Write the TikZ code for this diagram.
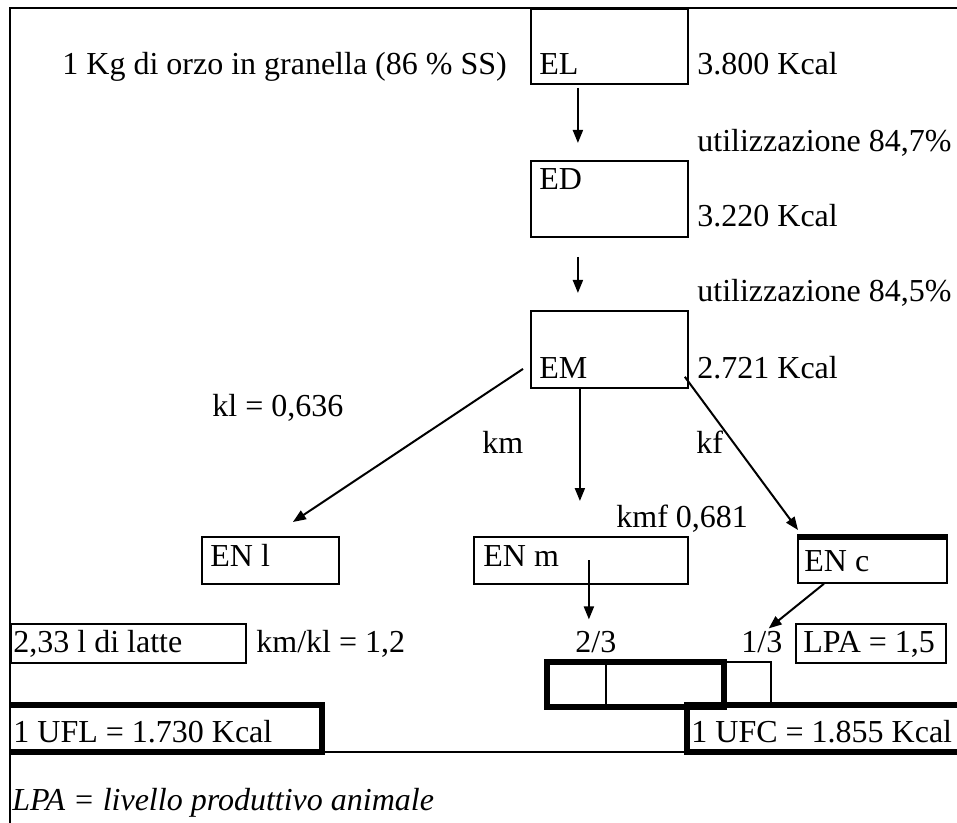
\documentclass[tikz,border=0pt]{standalone}
\usepackage{fontspec}
\setmainfont{Liberation Serif}
\usetikzlibrary{arrows.meta, calc, positioning}

\tikzset{
    box/.style={draw, line width=0.9pt, rectangle, inner sep=0pt, anchor=north west},
    txt/.style={anchor=base west, inner sep=0pt},
    arr/.style={-{Triangle[length=6.5pt, width=5pt]}, line width=1pt},
    heavy/.style={line width=2.6pt},
    thin/.style={line width=0.9pt}
}

\begin{document}
\begin{tikzpicture}[x=0.5pt, y=-0.5pt, every node/.style={font=\fontsize{16}{19}\selectfont}]
                                \useasboundingbox (0, 0) rectangle (957, 823);
                                \draw[line width=1.1pt] (10, 840) -- (10, 8) -- (965, 8);
                                \node[box, minimum width=78.5pt, minimum height=37.5pt] (EL) at (530, 8) {};
                                \node[box, minimum width=78.5pt, minimum height=38pt] (ED) at (530, 160) {};
                                \node[box, minimum width=78.5pt, minimum height=38.5pt] (EM) at (530, 310) {};
                                \node[box, minimum width=68.5pt, minimum height=23.5pt] (ENl) at (201, 536) {};
                                \node[box, minimum width=107pt, minimum height=23.5pt] (ENm) at (473, 536) {};
                                \node[box, minimum width=74.5pt, minimum height=22.5pt] (ENc) at (797, 537) {};
                                \node[box, minimum width=117.5pt, minimum height=19.5pt] (latte) at (10, 623) {};
                                \node[box, minimum width=75pt, minimum height=19.5pt] (LPAbox) at (795, 623) {};
                                \node[txt] (orzo) at (62, 75) {1 Kg di orzo in granella (86 \% SS)};
                                \node[txt] (tEL) at (539, 75) {EL};
                                \node[txt] (kcalEL) at (697, 75) {3.800 Kcal};
                                \node[txt] (utilD) at (697, 152) {utilizzazione 84,7\%};
                                \node[txt] (tED) at (539, 190) {ED};
                                \node[txt] (kcalED) at (697, 227) {3.220 Kcal};
                                \node[txt] (utilM) at (697, 302) {utilizzazione 84,5\%};
                                \node[txt] (tEM) at (539, 378) {EM};
                                \node[txt] (kcalEM) at (697, 378) {2.721 Kcal};
                                \node[txt] (kl) at (212, 416) {kl = 0,636};
                                \node[txt] (km) at (482, 453) {km};
                                \node[txt] (kf) at (696, 453) {kf};
                                \node[txt] (kmf) at (616, 527) {kmf 0,681};
                                \node[txt] (tENl) at (210, 566) {EN l};
                                \node[txt] (tENm) at (483, 566) {EN m};
                                \node[txt] (tENc) at (804, 571) {EN c};
                                \node[txt] (tlatte) at (13, 652) {2,33 l di latte};
                                \node[txt] (kmkl) at (256, 652) {km/kl = 1,2};
                                \node[txt] (t23) at (575, 652) {2/3};
                                \node[txt] (t13) at (741, 652) {1/3};
                                \node[txt] (tLPA) at (803, 652) {LPA = 1,5};
                                \node[txt] (UFL) at (13, 742) {1 UFL = 1.730 Kcal};
                                \node[txt] (UFC) at (691, 742) {1 UFC = 1.855 Kcal};
                                \node[txt] (legend) at (12, 810) {\itshape LPA = livello produttivo animale};
                                \draw[heavy] (547, 662) rectangle (724, 707);
                                \draw[thin] (606, 662) -- (606, 707)
                                (724, 662) -- (771, 662) -- (771, 707)
                                (322, 752) -- (687, 752);
                                \draw[heavy] (10, 705) -- (322, 705) -- (322, 752) -- (10, 752)
                                (960, 705) -- (687, 705) -- (687, 752) -- (960, 752)
                                (ENc.north west) -- (ENc.north east);
                                \draw[arr, shorten <=1.5pt, shorten >=8.5pt] ([xshift=-15.75pt]EL.south) -- ([xshift=-15.75pt]ED.north);
                                \draw[arr, shorten <=9.5pt, shorten >=8.5pt] ([xshift=-15.75pt]ED.south) -- ([xshift=-15.75pt]EM.north);
                                \draw[arr] ([shift={(-3.5pt, -9.75pt)}]EM.west) -- ([shift={(11.25pt, 7pt)}]ENl.north);
                                \draw[arr, shorten >=17.5pt] ([xshift=-14.75pt]EM.south) -- ([xshift=-0.5pt]ENm.north);
                                \draw[arr] ([shift={(-2pt, 6pt)}]EM.south east) -- ([shift={(0.5pt, 3.5pt)}]ENc.north west);
                                \draw[arr] ([xshift=4pt]ENm.center) -- ([xshift=4pt, yshift=5.5pt]ENm.center |- t23.north);
                                \draw[arr] ([xshift=-24.25pt]ENc.south) -- ([shift={(-7pt, 1pt)}]t13.north east);
                            \end{tikzpicture}
\end{document}
